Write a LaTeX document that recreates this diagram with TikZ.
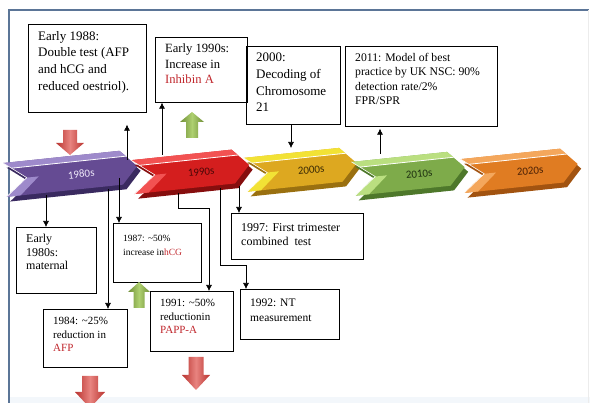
\documentclass[tikz,border=0pt]{standalone}
\usepackage{fontspec}
\setmainfont{Liberation Serif}
\newfontfamily\bannerfont{Carlito}
\usetikzlibrary{arrows.meta}

\definecolor{framecol}{HTML}{5B7597}
\definecolor{bandcol}{HTML}{F3F7FB}
\definecolor{redtxt}{HTML}{C0272D}
\definecolor{m1980}{HTML}{654B93}\definecolor{l1980}{HTML}{9E8ACB}\definecolor{d1980}{HTML}{3A2A60}\definecolor{t1980}{HTML}{EFE9FA}
\definecolor{m1990}{HTML}{D41E1E}\definecolor{l1990}{HTML}{F25252}\definecolor{d1990}{HTML}{860E0E}\definecolor{t1990}{HTML}{4A0707}
\definecolor{m2000}{HTML}{DDA820}\definecolor{l2000}{HTML}{F2E235}\definecolor{d2000}{HTML}{9A7010}\definecolor{t2000}{HTML}{3A2A05}
\definecolor{m2010}{HTML}{7EAB4A}\definecolor{l2010}{HTML}{BADF80}\definecolor{d2010}{HTML}{4E782B}\definecolor{t2010}{HTML}{1E3010}
\definecolor{m2020}{HTML}{E07C22}\definecolor{l2020}{HTML}{F4A75C}\definecolor{d2020}{HTML}{A25310}\definecolor{t2020}{HTML}{4A2005}
\definecolor{reddark}{HTML}{B9332F}\definecolor{redlight}{HTML}{E88480}
\definecolor{grndark}{HTML}{6F8E36}\definecolor{grnlight}{HTML}{AED070}

\tikzset{
  evbox/.style={draw, line width=0.7pt, anchor=north west, inner sep=0pt},
  evtext/.style={anchor=north west, align=left, inner xsep=10pt, inner ysep=7pt},
  link/.style={line width=0.6pt, -{Latex[length=6pt,width=6pt]}},
  bannerlbl/.style={font=\bannerfont\fontsize{11}{13}\selectfont, rotate=6, inner sep=1pt},
}

% block arrows: x, y, shaft length, head length, half shaft, half head
\newcommand\fatdown[6]{%
  \shade[left color=reddark, right color=reddark, middle color=redlight]
    (#1-#5,#2) -- (#1+#5,#2) -- (#1+#5,#2+#3) -- (#1+#6,#2+#3) -- (#1,#2+#3+#4)
    -- (#1-#6,#2+#3) -- (#1-#5,#2+#3) -- cycle;}
\newcommand\fatup[6]{%
  \shade[left color=grndark, right color=grndark, middle color=grnlight]
    (#1,#2) -- (#1+#6,#2+#4) -- (#1+#5,#2+#4) -- (#1+#5,#2+#4+#3) -- (#1-#5,#2+#4+#3)
    -- (#1-#5,#2+#4) -- (#1-#6,#2+#4) -- cycle;}

\begin{document}
\begin{tikzpicture}[x=1pt, y=-1pt]
  \useasboundingbox (0,0) rectangle (590,403);
  \fill[bandcol] (9,397) rectangle (590,403);
  \draw[framecol, line width=2pt] (9,403) -- (9,10) -- (589,10);
  \draw[gray!15] (588,10) -- (588,403);

  % timeline banners
  \foreach \yr/\cx/\cy/\w in {1980/71/173/133, 1990/191/171/117, 2000/301/169/112,
                              2010/409/173/112, 2020/520/170/116} {
    \pgfmathsetmacro\hw{\w/2}
    \begin{scope}[shift={(\cx,\cy)}, rotate=6]
      \fill[d\yr, shift={(3,5)}] (-\hw,-17) -- (\hw-16,-17) -- (\hw,0) -- (\hw-16,17)
        -- (-\hw,17) -- (-\hw+22,0) -- cycle;
      \fill[m\yr] (-\hw,-17) -- (\hw-16,-17) -- (\hw,0) -- (\hw-16,17)
        -- (-\hw,17) -- (-\hw+22,0) -- cycle;
      \fill[l\yr] (-\hw,-17) -- (\hw-16,-17) -- (\hw-10,-11) -- (-\hw+8,-11) -- cycle;
      \fill[l\yr] (-\hw+22,0) -- (-\hw,17) -- (-\hw+14,17) -- (-\hw+34,0) -- cycle;
      \draw[white, line width=0.8pt] (-\hw+8,-11) -- (\hw-10,-11);
      \draw[white, line width=0.6pt] (-\hw,-17) -- (-\hw+22,0) -- (-\hw,17);
      \node[bannerlbl, text=t\yr] (b\yr) at (10,2) {\yr s};
    \end{scope}
  }

  % boxes above
  \node[evbox, minimum width=118, minimum height=88] (dt88) at (28,24) {};
  \node[evtext, font=\fontsize{13}{16.7}\selectfont] (dt88t) at (dt88.north west)
    {Early 1988:\\Double test (AFP\\and hCG and\\reduced oestriol).};
  \node[evbox, minimum width=92, minimum height=65] (in90) at (155,37) {};
  \node[evtext, font=\fontsize{12.6}{15.5}\selectfont] (in90t) at (in90.north west)
    {Early 1990s:\\Increase in\\\textcolor{redtxt}{Inhibin A}};
  \node[evbox, minimum width=94, minimum height=78] (ch00) at (246,46) {};
  \node[evtext, font=\fontsize{13}{16.7}\selectfont] (ch00t) at (ch00.north west)
    {2000:\\Decoding of\\Chromosome\\21};
  \node[evbox, minimum width=152, minimum height=80] (np11) at (345,46) {};
  \node[evtext, font=\fontsize{11.7}{14.3}\selectfont] (np11t) at (np11.north west)
    {2011: Model of best\\practice by UK NSC: 90\%\\detection rate/2\%\\FPR/SPR};

  % boxes below
  \node[evbox, minimum width=80, minimum height=66] (e80) at (16,227) {};
  \node[evtext, font=\fontsize{12}{13.5}\selectfont] (e80t) at (e80.north west)
    {Early\\1980s:\\maternal};
  \node[evbox, minimum width=88, minimum height=59] (i87) at (113,223) {};
  \node[evtext, inner ysep=12pt, font=\fontsize{9.5}{13.5}\selectfont] (i87t) at (i87.north west)
    {1987: \textasciitilde50\%\\increase in\textcolor{redtxt}{hCG}};
  \node[evbox, minimum width=84, minimum height=58] (r84) at (43,309) {};
  \node[evtext, inner ysep=8pt, font=\fontsize{11}{13.7}\selectfont] (r84t) at (r84.north west)
    {1984: \textasciitilde25\%\\reduction in\\\textcolor{redtxt}{AFP}};
  \node[evbox, minimum width=83, minimum height=60] (r91) at (150,291) {};
  \node[evtext, inner ysep=8pt, font=\fontsize{11}{13.5}\selectfont] (r91t) at (r91.north west)
    {1991: \textasciitilde50\%\\reductionin\\\textcolor{redtxt}{PAPP-A}};
  \node[evbox, minimum width=99, minimum height=50] (nt92) at (240,289) {};
  \node[evtext, inner ysep=10pt, font=\fontsize{11.5}{15}\selectfont] (nt92t) at (nt92.north west)
    {1992: NT\\measurement};
  \node[evbox, minimum width=132, minimum height=46] (ft97) at (231,213) {};
  \node[evtext, inner ysep=10pt, font=\fontsize{12}{14}\selectfont] (ft97t) at (ft97.north west)
    {1997: First trimester\\combined\ \ test};

  % connectors
  \coordinate (p80e) at (46,195);
  \coordinate (p80d) at (127,160);
  \coordinate (p80i) at (119,178);
  \coordinate (p80r) at (108,189);
  \coordinate (p90u) at (162,155);
  \coordinate (p90r) at (178,193);
  \coordinate (p90n) at (220,188);
  \coordinate (p90f) at (239,186);
  \coordinate (p00) at (291,148);
  \coordinate (p10) at (380,154);
  \coordinate (k91) at (209,208);
  \coordinate (k92) at (246,265);
  \draw[link] (p80e) -- (p80e |- e80.north);
  \draw[link, shorten >=12pt] (p80d) -- (p80d |- dt88.south);
  \draw[link] (p80i) -- (p80i |- i87.north);
  \draw[link] (p80r) -- (p80r |- r84.north);
  \draw[link] (p90u) -- (p90u |- in90.south);
  \draw[link] (p90r) |- (k91) -- (k91 |- r91.north);
  \draw[link] (p90n) |- (k92) -- (k92 |- nt92.north);
  \draw[link] (p90f) -- (p90f |- ft97.north);
  \draw[link] (ch00.south -| p00) -- (p00);
  \draw[link, shorten >=2pt] (p10) -- (p10 |- np11.south);

  % block arrows
  \fatdown{70}{130}{13}{12}{7}{14}
  \fatdown{90}{376}{16}{16}{8}{15}
  \fatdown{196}{357}{18}{15}{7.5}{14}
  \fatup{192}{112}{16}{10}{6}{12}
  \fatup{139}{282}{16}{10}{5.5}{11}
\end{tikzpicture}
\end{document}
